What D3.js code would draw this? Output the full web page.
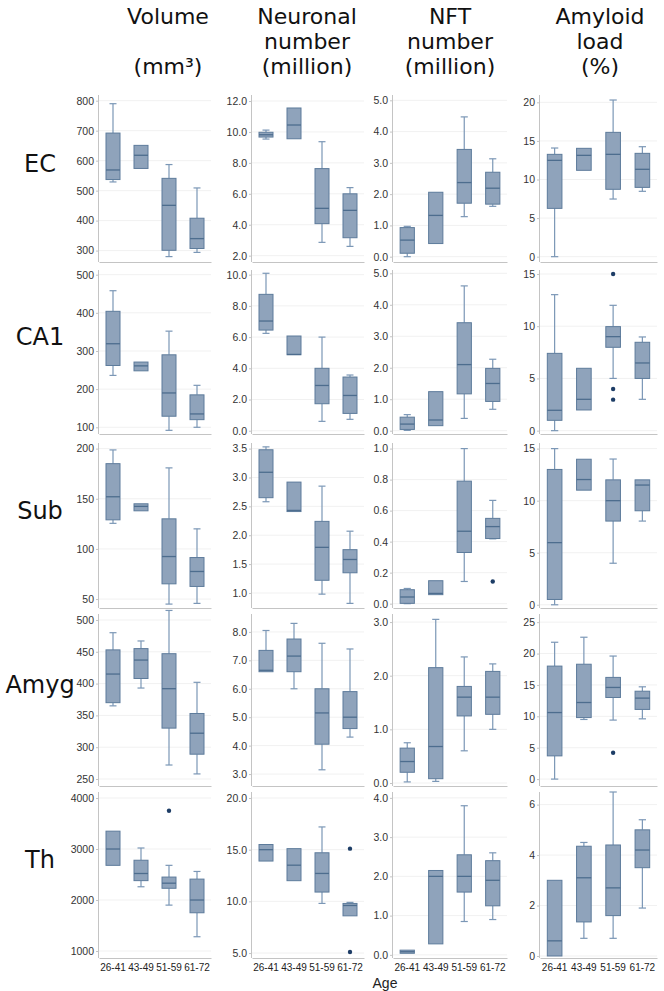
<!DOCTYPE html>
<html><head><meta charset="utf-8">
<script src="https://cdn.jsdelivr.net/npm/d3@7"></script>
<style>
body{margin:0;background:#fff;}
svg{display:block;}
</style></head>
<body>
<svg id="chart" width="664" height="991"></svg>
<script>
// ---------- DATA ----------
const regions = ["EC", "CA1", "Sub", "Amyg", "Th"];
const ages = ["26-41", "43-49", "51-59", "61-72"];
const titles = [["Volume", "", "(mm\u00b3)"], ["Neuronal", "number", "(million)"], ["NFT", "number", "(million)"], ["Amyloid", "load", "(%)"]];

// each box: [whiskerLow, q1, median, q3, whiskerHigh]
const volume = [
  [[529,537,569,692,790],[574,574,618,651,651],[280,301,451,541,587],[294,307,340,408,509]],
  [[236,262,319,404,458],[248,248,261,271,271],[92,129,190,290,352],[100,120,135,185,210]],
  [[125.5,129,152,185,198.7],[138,138,142.4,145,145],[45,65.2,92.4,130,180.8],[45.7,62.6,77.5,91.4,120]],
  [[365,370,415,453,480],[393,408,437,455,467],[272,330,392,447,515],[258,289,322,353,402]],
  [[2680,2680,3000,3350,3350],[2260,2380,2520,2780,3020],[1900,2230,2330,2450,2680],[1280,1750,2000,2410,2560]]
];
const neurons = [
  [[9.54,9.67,9.82,9.98,10.12],[9.56,9.56,10.45,11.55,11.55],[2.86,4.07,5.06,7.63,9.37],[2.6,3.16,4.93,6.0,6.4]],
  [[6.24,6.45,7.03,8.74,10.09],[4.87,4.87,4.89,6.07,6.07],[0.6,1.73,2.9,4.0,6.0],[0.73,1.11,2.26,3.44,3.57]],
  [[2.58,2.65,3.09,3.48,3.53],[2.41,2.41,2.43,2.92,2.92],[0.98,1.22,1.79,2.24,2.85],[0.82,1.35,1.58,1.75,2.07]],
  [[6.6,6.6,6.65,7.35,8.05],[6.0,6.6,7.15,7.75,8.3],[3.15,4.05,5.15,6.0,7.6],[4.3,4.6,5.0,5.9,7.4]],
  [[13.9,13.9,15.0,15.5,15.5],[12.0,12.0,13.5,15.1,15.1],[9.8,10.9,12.7,14.7,17.2],[8.6,8.6,9.6,9.8,9.9]]
];
const nft = [
  [[0.0,0.11,0.53,0.93,0.97],[0.42,0.42,1.32,2.06,2.06],[1.28,1.71,2.37,3.43,4.47],[1.61,1.68,2.19,2.70,3.13]],
  [[0.01,0.04,0.21,0.43,0.51],[0.16,0.16,0.34,1.24,1.24],[0.39,1.17,2.1,3.43,4.6],[0.68,0.93,1.5,1.98,2.27]],
  [[0.0,0.002,0.043,0.09,0.098],[0.058,0.058,0.066,0.148,0.148],[0.143,0.33,0.467,0.79,1.0],[0.418,0.42,0.497,0.55,0.666]],
  [[0.02,0.2,0.4,0.65,0.75],[0.03,0.08,0.68,2.15,3.05],[0.6,1.25,1.6,1.8,2.35],[1.0,1.28,1.6,2.08,2.22]],
  [[0.04,0.04,0.08,0.12,0.12],[0.28,0.28,2.0,2.15,2.15],[0.85,1.6,2.0,2.55,3.8],[0.9,1.25,1.9,2.4,2.6]]
];
const amyloid = [
  [[0,6.26,12.48,13.26,14.08],[11.19,11.19,13.13,14.04,14.04],[7.47,8.73,13.26,16.11,20.3],[8.47,8.98,11.32,13.39,14.25]],
  [[0,0.99,1.95,7.4,13.02],[1.98,1.98,3.0,5.97,5.97],[5.0,7.98,9.0,9.96,12.0],[3.0,5.0,6.48,8.46,8.97]],
  [[0,0.51,5.97,13.0,15.0],[11.01,11.01,12.03,13.98,13.98],[3.99,8.04,10.0,12.0,14.0],[8.04,9.03,11.5,12.0,12.0]],
  [[0,3.7,10.6,18.0,21.8],[9.5,9.8,12.2,18.3,22.6],[9.4,13.0,14.6,16.2,19.6],[9.6,11.1,12.9,14.0,14.7]],
  [[0,0,0.6,3.0,3.0],[0.7,1.35,3.1,4.35,4.5],[0.7,1.6,2.7,4.4,6.5],[1.9,3.5,4.2,5.0,5.4]]
];
// outliers: [regionIndex, ageIndex, value]
const volumeOutliers = [[4,2,3750]];
const neuronsOutliers = [[4,3,15.1],[4,3,5.1]];
const nftOutliers = [[2,3,0.143]];
const amyloidOutliers = [[1,2,15],[1,2,3.99],[1,2,2.97],[3,2,4.2]];

// y-axis domains and ticks per panel (rows = regions)
const volumeDomain = [[262,819],[82.4,512.3],[41.1,205.6],[239,509.4],[863,4118]];
const neuronsDomain = [[1.59,12.39],[-0.21,10.3],[0.74,3.597],[2.58,8.63],[4.52,20.58]];
const nftDomain = [[-0.17,5.17],[-0.105,5.105],[-0.028,1.036],[-0.056,3.15],[-0.08,4.15]];
const amyloidDomain = [[-0.69,20.95],[-0.32,15.38],[-0.31,15.54],[-1.1,26.3],[-0.08,6.5]];
const volumeTicks = [[300,400,500,600,700,800],[100,200,300,400,500],[50,100,150,200],[250,300,350,400,450,500],[1000,2000,3000,4000]];
const neuronsTicks = [[2,4,6,8,10,12],[0,2,4,6,8,10],[1,1.5,2,2.5,3,3.5],[3,4,5,6,7,8],[5,10,15,20]];
const nftTicks = [[0,1,2,3,4,5],[0,1,2,3,4,5],[0,0.2,0.4,0.6,0.8,1.0],[0,1,2,3],[0,1,2,3,4]];
const amyloidTicks = [[0,5,10,15,20],[0,5,10,15],[0,5,10,15],[0,5,10,15,20,25],[0,2,4,6]];

// ---------- LAYOUT ----------
const colX = [99, 252, 393, 540];
const colW = [112, 112, 114, 117];
const rowTop = [95, 270, 443, 614, 792];
const rowBot = [262, 434, 608, 786, 958];
const colCenter = [168, 307, 450, 600];

const measures = [
  {data: volume, out: volumeOutliers, dom: volumeDomain, ticks: volumeTicks, fmt: d3.format("d")},
  {data: neurons, out: neuronsOutliers, dom: neuronsDomain, ticks: neuronsTicks, fmt: d3.format(".1f")},
  {data: nft, out: nftOutliers, dom: nftDomain, ticks: nftTicks, fmt: d3.format(".1f")},
  {data: amyloid, out: amyloidOutliers, dom: amyloidDomain, ticks: amyloidTicks, fmt: d3.format("d")}
];

const svg = d3.select("#chart");
const FILL = "#8fa3bb", STROKE = "#5d7b9b", MED = "#4d6d8e", WHISK = "#7b97b6", DOT = "#1d3d66";

// titles
titles.forEach((lines, c) => {
  lines.forEach((t, i) => {
    if (!t) return;
    svg.append("text").attr("x", colCenter[c]).attr("y", 24 + i * 25)
      .attr("text-anchor", "middle").attr("font-family", "DejaVu Sans, sans-serif")
      .attr("font-size", 22).attr("fill", "#111").text(t);
  });
});
// region labels
regions.forEach((r, ri) => {
  svg.append("text").attr("x", 40).attr("y", (rowTop[ri] + rowBot[ri]) / 2 - 14)
    .attr("text-anchor", "middle").attr("dominant-baseline", "middle")
    .attr("font-family", "DejaVu Sans, sans-serif").attr("font-size", 24).attr("fill", "#111").text(r);
});

measures.forEach((m, c) => {
  regions.forEach((r, ri) => {
    const x = d3.scaleBand().domain(ages).range([colX[c], colX[c] + colW[c]]);
    const y = d3.scaleLinear().domain(m.dom[ri]).range([rowBot[ri], rowTop[ri]]);
    const g = svg.append("g");
    // grid
    g.selectAll("line.grid").data(m.ticks[ri]).join("line").attr("class", "grid")
      .attr("x1", colX[c]).attr("x2", colX[c] + colW[c])
      .attr("y1", d => y(d)).attr("y2", d => y(d))
      .attr("stroke", "#f1f1f1").attr("stroke-width", 1);
    // y axis
    const ya = g.append("g").attr("transform", `translate(${colX[c]},0)`)
      .call(d3.axisLeft(y).tickValues(m.ticks[ri]).tickFormat(m.fmt).tickSize(3).tickPadding(2));
    ya.select(".domain").attr("stroke", "#c4c4c4").attr("d", `M-0.5,${rowBot[ri]}V${rowTop[ri]}`);
    ya.selectAll(".tick line").attr("stroke", "#c4c4c4");
    ya.selectAll(".tick text").attr("font-family", "Liberation Sans, Arial, sans-serif").attr("font-size", 10.5).attr("fill", "#333");
    // x axis
    const xa = g.append("g").attr("transform", `translate(0,${rowBot[ri]})`)
      .call(d3.axisBottom(x).tickSize(0).tickFormat(ri === regions.length - 1 ? (d => d) : ""));
    xa.select(".domain").attr("stroke", "#c4c4c4");
    xa.selectAll(".tick text").attr("font-family", "Liberation Sans, Arial, sans-serif").attr("font-size", 10).attr("fill", "#222").attr("dy", "0.95em");
    // boxes
    const bw = x.bandwidth() * 0.5;
    m.data[ri].forEach((b, ai) => {
      const cx = x(ages[ai]) + x.bandwidth() / 2;
      const [lo, q1, md, q3, hi] = b;
      const bx = g.append("g");
      bx.append("line").attr("x1", cx).attr("x2", cx).attr("y1", y(q3)).attr("y2", y(hi)).attr("stroke", WHISK).attr("stroke-width", 1.2);
      bx.append("line").attr("x1", cx).attr("x2", cx).attr("y1", y(q1)).attr("y2", y(lo)).attr("stroke", WHISK).attr("stroke-width", 1.2);
      if (hi > q3) bx.append("line").attr("x1", cx - bw / 4).attr("x2", cx + bw / 4).attr("y1", y(hi)).attr("y2", y(hi)).attr("stroke", WHISK).attr("stroke-width", 1.2);
      if (lo < q1) bx.append("line").attr("x1", cx - bw / 4).attr("x2", cx + bw / 4).attr("y1", y(lo)).attr("y2", y(lo)).attr("stroke", WHISK).attr("stroke-width", 1.2);
      bx.append("rect").attr("x", cx - bw / 2).attr("width", bw).attr("y", y(q3)).attr("height", Math.max(1, y(q1) - y(q3)))
        .attr("fill", FILL).attr("stroke", STROKE).attr("stroke-width", 1);
      bx.append("line").attr("x1", cx - bw / 2).attr("x2", cx + bw / 2).attr("y1", y(md)).attr("y2", y(md)).attr("stroke", MED).attr("stroke-width", 1.3);
    });
    // outliers
    m.out.filter(o => o[0] === ri).forEach(o => {
      g.append("circle").attr("cx", x(ages[o[1]]) + x.bandwidth() / 2).attr("cy", y(o[2])).attr("r", 2.2).attr("fill", DOT);
    });
  });
});

svg.append("text").attr("x", 385).attr("y", 988).attr("text-anchor", "middle")
  .attr("font-family", "Liberation Sans, Arial, sans-serif").attr("font-size", 14).attr("fill", "#222").text("Age");
</script>
</body></html>
